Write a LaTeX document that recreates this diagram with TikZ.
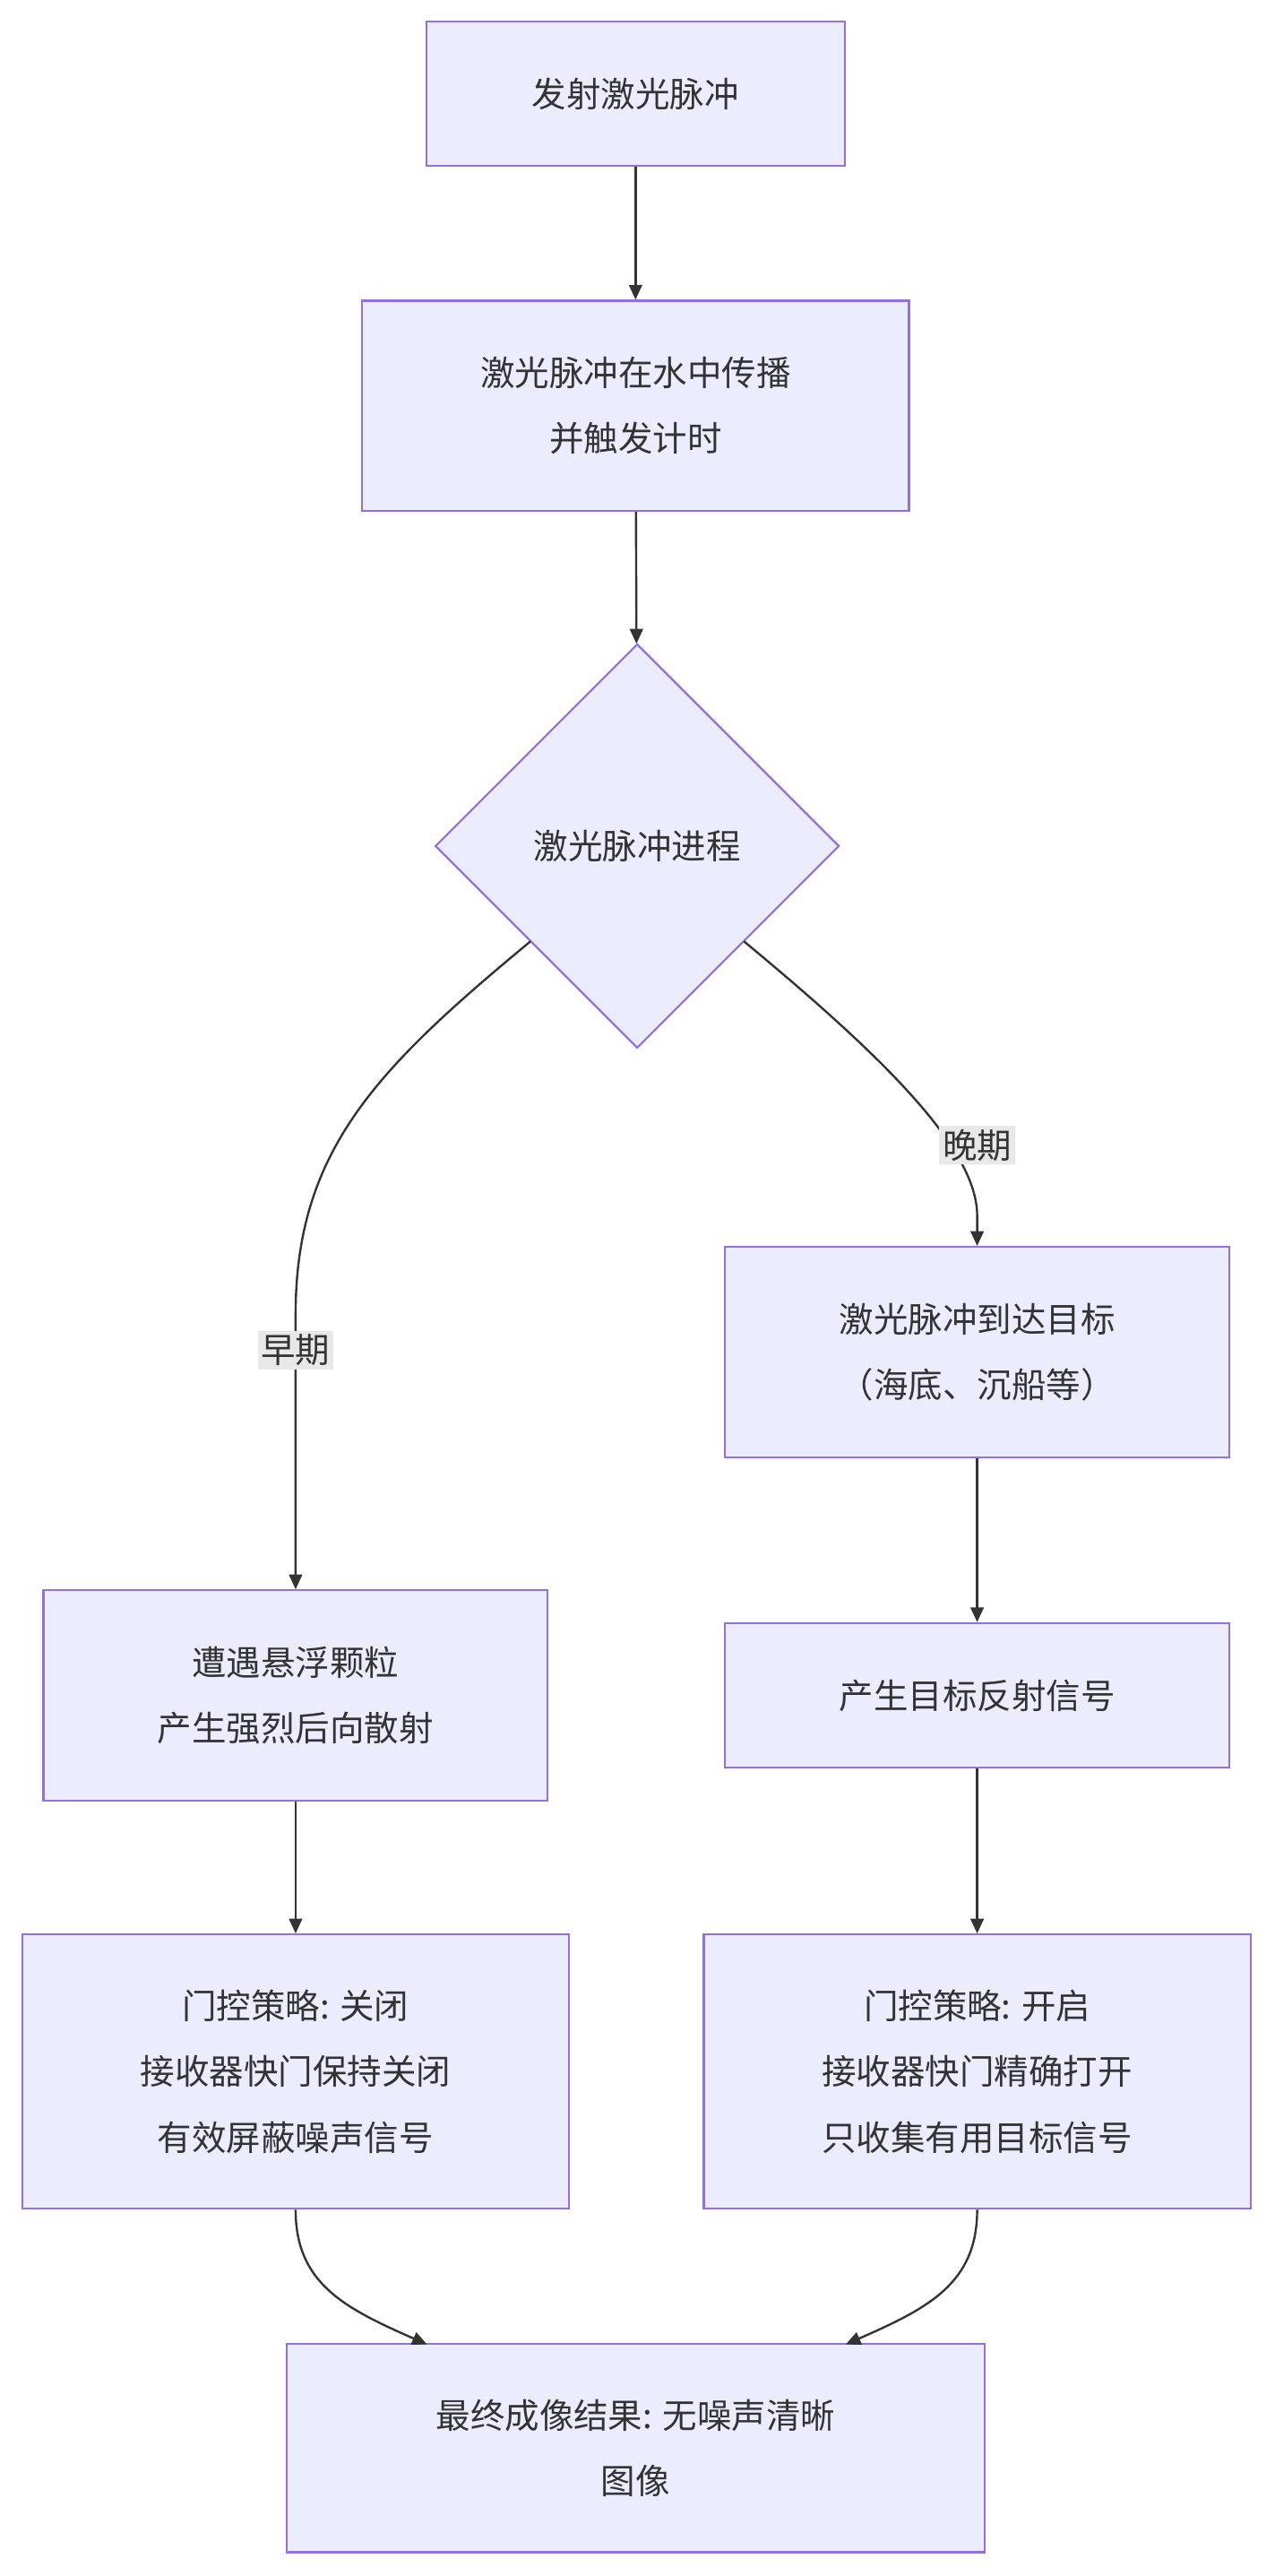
\documentclass[tikz,border=0pt]{standalone}
\usepackage{fontspec}
\setmainfont{Noto Sans CJK SC}
\usetikzlibrary{shapes.geometric,arrows.meta}
\definecolor{nf}{HTML}{ECECFF}
\definecolor{ns}{HTML}{9370DB}
\definecolor{ar}{HTML}{333333}
\definecolor{lb}{HTML}{E8E8E8}
\begin{document}
\begin{tikzpicture}[x=1pt,y=-1pt,
  box/.style={draw=ns,fill=nf,line width=1.2pt,align=center,inner sep=0pt,font=\fontsize{21}{40}\selectfont,text=ar},
  lab/.style={fill=lb,inner sep=2pt,font=\fontsize{21}{26}\selectfont,text=ar},
  e/.style={draw=ar,line width=1.3pt,-{Triangle[length=9pt,width=8pt]}}]
\useasboundingbox (0,0) rectangle (776,1568);
\node[box,minimum width=255,minimum height=88] (a) at (387,57) {发射激光脉冲};
\node[box,minimum width=333,minimum height=128] (b) at (387,247) {激光脉冲在水中传播\\并触发计时};
\node[box,diamond,minimum width=246,minimum height=246] (c) at (388,515) {激光脉冲进程};
\node[box,minimum width=307,minimum height=128] (d) at (595,823) {激光脉冲到达目标\\（海底、沉船等）};
\node[box,minimum width=307,minimum height=128] (f) at (180,1032) {遭遇悬浮颗粒\\产生强烈后向散射};
\node[box,minimum width=307,minimum height=88] (g) at (595,1032) {产生目标反射信号};
\node[box,minimum width=333,minimum height=167] (h) at (180,1261) {门控策略: 关闭\\接收器快门保持关闭\\有效屏蔽噪声信号};
\node[box,minimum width=333,minimum height=167] (i) at (595,1261) {门控策略: 开启\\接收器快门精确打开\\只收集有用目标信号};
\node[box,minimum width=425,minimum height=127] (j) at (387,1490) {最终成像结果: 无噪声清晰\\图像};
\coordinate (cl) at (323,573);
\coordinate (cr) at (453,573);
\draw[e] (a) -- (b);
\draw[e] (b) -- (c);
\draw[e] (cl) .. controls (230,650) and (180,700) .. (180,800) -- (f.north);
\draw[e] (cr) .. controls (540,645) and (595,700) .. (595,740) -- (d.north);
\node[lab] (l1) at (180,822) {早期};
\node[lab] (l2) at (595,697) {晚期};
\draw[e] (d) -- (g);
\draw[e] (f) -- (h);
\draw[e] (g) -- (i);
\draw[e] (h.south) .. controls (180,1390) and (210,1405) .. (260,1427);
\draw[e] (i.south) .. controls (595,1390) and (565,1405) .. (515,1427);
\end{tikzpicture}
\end{document}
